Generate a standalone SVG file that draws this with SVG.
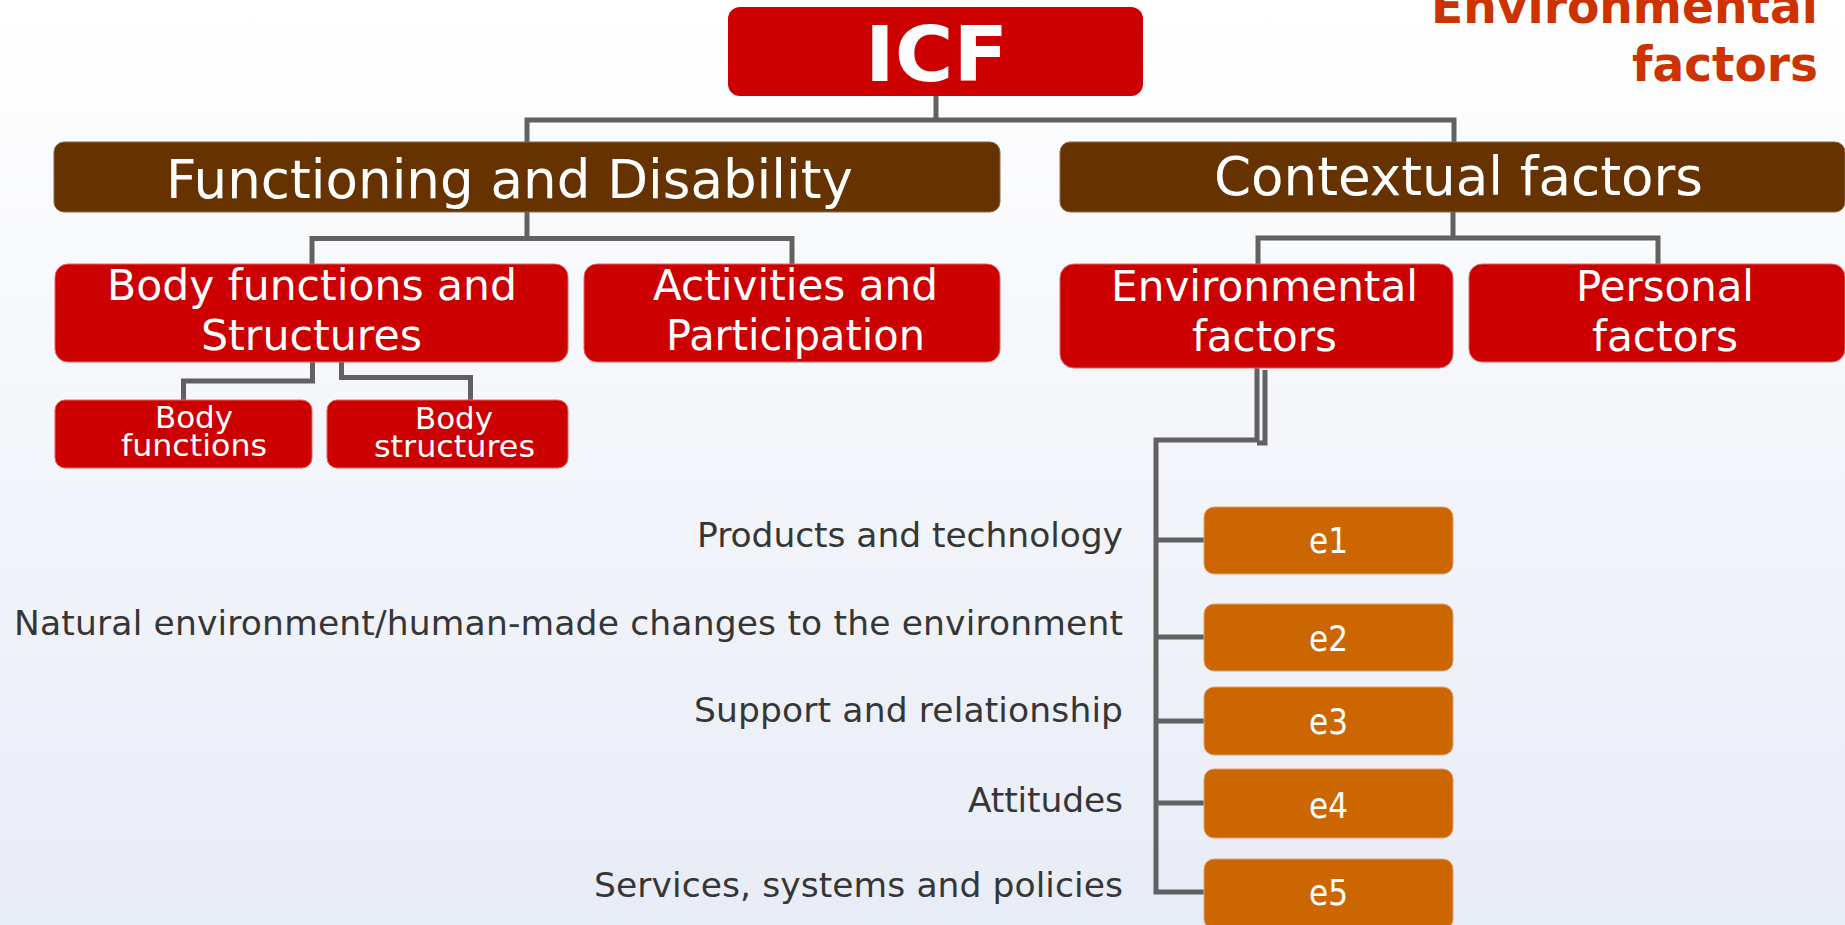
<svg xmlns="http://www.w3.org/2000/svg" width="1845" height="925" viewBox="0 0 1845 925">
  <defs>
    <linearGradient id="bg" x1="0" y1="0" x2="0" y2="1">
      <stop offset="0" stop-color="#FFFFFF"/>
      <stop offset="1" stop-color="#E8ECF6"/>
    </linearGradient>
  </defs>
  <style>
    .red { fill: #CC0000; stroke: #E06666; stroke-width: 1; }
    .brown { fill: #663300; stroke: #8C6A4A; stroke-width: 1; }
    .orange { fill: #CC6600; stroke: #E0A070; stroke-width: 1; }
    .box-t { font-family: "DejaVu Sans", Verdana, sans-serif; fill: #FFFFFF; }
    .lbl { font-family: "DejaVu Sans", Verdana, sans-serif; fill: #363636; font-size: 34.5px; }
    .conn { fill: none; stroke: #616161; stroke-width: 5; stroke-linejoin: miter; stroke-linecap: butt; }
  </style>
  <rect x="0" y="0" width="1845" height="925" fill="url(#bg)"/>

  <g id="title">
    <text font-family="'DejaVu Sans', Verdana, sans-serif" font-weight="bold" font-size="48" fill="#CC3300">
      <tspan x="1431" y="23" textLength="387" lengthAdjust="spacingAndGlyphs">Environmental</tspan>
      <tspan x="1632" y="81" textLength="186" lengthAdjust="spacingAndGlyphs">factors</tspan>
    </text>
  </g>

  <g id="connectors">
    <path class="conn" d="M936,95 V120"/>
    <path class="conn" stroke-width="6" d="M527,142 V120 H1454 V142"/>
    <path class="conn" d="M527,212 V238.5"/>
    <path class="conn" d="M312,264 V238.5 H792 V264"/>
    <path class="conn" d="M312.5,362 V381 H183.5 V400"/>
    <path class="conn" d="M341.5,362 V377.5 H470.5 V400"/>
    <path class="conn" stroke-width="4" d="M1453,212 V238"/>
    <path class="conn" stroke-width="4" d="M1258,264 V238 H1658 V264"/>
    <path class="conn" stroke-width="6" d="M1257,368 V440 H1156 V892 H1205"/>
    <path class="conn" stroke-width="6" d="M1265,370 V443 H1257"/>
    <path class="conn" stroke-width="6" d="M1156,540 H1205 M1156,637 H1205 M1156,721 H1205 M1156,803 H1205"/>
  </g>

  <g id="icf">
    <rect x="728" y="7" width="415" height="89" rx="12" fill="#CC0000"/>
    <text x="865" y="81" font-family="'DejaVu Sans', Verdana, sans-serif" font-weight="bold" font-size="76" fill="#FFFFFF" textLength="143" lengthAdjust="spacingAndGlyphs">ICF</text>
  </g>

  <g id="functioning">
    <rect class="brown" x="54" y="142" width="946" height="70" rx="10"/>
    <text class="box-t" x="166" y="198" font-size="54" textLength="687" lengthAdjust="spacingAndGlyphs">Functioning and Disability</text>
  </g>

  <g id="contextual">
    <rect class="brown" x="1060" y="142" width="785" height="70" rx="10"/>
    <text class="box-t" x="1214" y="195" font-size="54" textLength="489" lengthAdjust="spacingAndGlyphs">Contextual factors</text>
  </g>

  <g id="body-functions-structures">
    <rect class="red" x="55" y="264" width="513" height="98" rx="13"/>
    <text class="box-t" font-size="42">
      <tspan x="107" y="300" textLength="410" lengthAdjust="spacingAndGlyphs">Body functions and</tspan>
      <tspan x="201" y="350" textLength="221" lengthAdjust="spacingAndGlyphs">Structures</tspan>
    </text>
  </g>

  <g id="activities">
    <rect class="red" x="584" y="264" width="416" height="98" rx="13"/>
    <text class="box-t" font-size="42">
      <tspan x="653" y="300" textLength="285" lengthAdjust="spacingAndGlyphs">Activities and</tspan>
      <tspan x="666" y="350" textLength="259" lengthAdjust="spacingAndGlyphs">Participation</tspan>
    </text>
  </g>

  <g id="body-functions">
    <rect class="red" x="55" y="400" width="257" height="68" rx="10"/>
    <text class="box-t" font-size="30">
      <tspan x="155" y="428" textLength="78" lengthAdjust="spacingAndGlyphs">Body</tspan>
      <tspan x="121" y="456" textLength="146" lengthAdjust="spacingAndGlyphs">functions</tspan>
    </text>
  </g>

  <g id="body-structures">
    <rect class="red" x="327" y="400" width="241" height="68" rx="10"/>
    <text class="box-t" font-size="30">
      <tspan x="415" y="429" textLength="78" lengthAdjust="spacingAndGlyphs">Body</tspan>
      <tspan x="374" y="457" textLength="161" lengthAdjust="spacingAndGlyphs">structures</tspan>
    </text>
  </g>

  <g id="environmental">
    <rect class="red" x="1060" y="264" width="393" height="104" rx="14"/>
    <text class="box-t" font-size="42">
      <tspan x="1111" y="301" textLength="307" lengthAdjust="spacingAndGlyphs">Environmental</tspan>
      <tspan x="1192" y="351" textLength="145" lengthAdjust="spacingAndGlyphs">factors</tspan>
    </text>
  </g>

  <g id="personal">
    <rect class="red" x="1469" y="264" width="376" height="98" rx="13"/>
    <text class="box-t" font-size="42">
      <tspan x="1576" y="301" textLength="178" lengthAdjust="spacingAndGlyphs">Personal</tspan>
      <tspan x="1592" y="351" textLength="146" lengthAdjust="spacingAndGlyphs">factors</tspan>
    </text>
  </g>

  <g id="e1">
    <rect class="orange" x="1204" y="507" width="249" height="67" rx="10"/>
    <text class="box-t" x="1309" y="553" font-size="36" textLength="39" lengthAdjust="spacingAndGlyphs">e1</text>
    <text class="lbl" x="697" y="547" textLength="426">Products and technology</text>
  </g>
  <g id="e2">
    <rect class="orange" x="1204" y="604" width="249" height="67" rx="10"/>
    <text class="box-t" x="1309" y="651" font-size="36" textLength="39" lengthAdjust="spacingAndGlyphs">e2</text>
    <text class="lbl" x="14" y="635" textLength="1109">Natural environment/human-made changes to the environment</text>
  </g>
  <g id="e3">
    <rect class="orange" x="1204" y="687" width="249" height="68" rx="10"/>
    <text class="box-t" x="1309" y="734" font-size="36" textLength="39" lengthAdjust="spacingAndGlyphs">e3</text>
    <text class="lbl" x="694" y="722" textLength="429">Support and relationship</text>
  </g>
  <g id="e4">
    <rect class="orange" x="1204" y="769" width="249" height="69" rx="10"/>
    <text class="box-t" x="1309" y="818" font-size="36" textLength="39" lengthAdjust="spacingAndGlyphs">e4</text>
    <text class="lbl" x="968" y="812" textLength="155">Attitudes</text>
  </g>
  <g id="e5">
    <rect class="orange" x="1204" y="859" width="249" height="70" rx="10"/>
    <text class="box-t" x="1309" y="905" font-size="36" textLength="39" lengthAdjust="spacingAndGlyphs">e5</text>
    <text class="lbl" x="594" y="897" textLength="529">Services, systems and policies</text>
  </g>
</svg>
